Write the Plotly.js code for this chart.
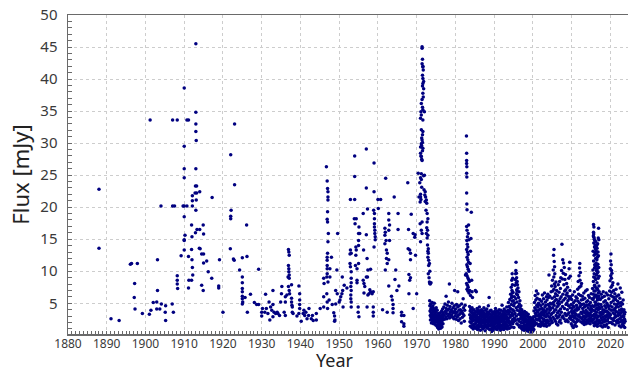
<!DOCTYPE html>
<html><head><meta charset="utf-8">
<script src="https://cdn.plot.ly/plotly-3.0.1.min.js"></script>
<style>html,body{margin:0;padding:0;background:#fff;}#chart{width:628px;height:373px;}</style>
</head><body><div id="chart"></div>
<script>
const hist1888_1929 = [[1888.0,22.8],[1888.0,13.6],[1891.1,2.6],[1893.2,2.3],[1896.1,11.1],[1896.4,11.2],[1897.9,11.2],[1897.2,8.1],[1897.1,5.9],[1897.3,4.1],[1899.2,3.4],[1901.0,3.3],[1901.2,33.6],[1901.4,3.9],[1902.0,5.1],[1902.9,5.2],[1903.1,11.8],[1903.1,7.0],[1902.9,4.1],[1903.7,4.1],[1904.0,20.2],[1904.1,4.9],[1905.1,3.6],[1905.2,2.3],[1905.2,4.6],[1906.9,4.9],[1907.2,3.6],[1907.0,20.2],[1907.5,20.2],[1907.0,33.6],[1908.2,33.6],[1908.2,9.3],[1908.2,8.6],[1908.2,8.0],[1908.3,7.3],[1909.7,20.2],[1909.2,12.4],[1910.0,38.6],[1910.0,29.5],[1910.0,26.0],[1910.0,24.6],[1910.7,20.2],[1910.0,20.2],[1910.0,18.5],[1910.2,15.6],[1910.0,14.9],[1910.0,14.8],[1910.0,13.3],[1910.7,33.6],[1911.1,33.6],[1911.1,12.3],[1911.2,8.6],[1911.1,7.4],[1911.9,8.6],[1912.2,9.4],[1912.1,10.6],[1912.0,11.8],[1911.9,13.4],[1912.0,15.4],[1911.9,17.2],[1912.1,20.2],[1912.1,21.0],[1912.1,21.8],[1912.8,22.2],[1913.2,22.2],[1912.9,23.3],[1913.2,23.3],[1913.0,26.0],[1913.1,30.4],[1913.0,31.8],[1913.0,33.0],[1913.0,34.8],[1913.0,45.5],[1913.1,21.1],[1913.0,19.5],[1912.9,16.0],[1913.3,16.5],[1914.0,22.4],[1914.0,16.5],[1913.9,13.6],[1914.1,13.5],[1914.9,17.2],[1915.0,15.8],[1914.5,12.7],[1915.0,12.7],[1914.5,7.8],[1914.9,7.0],[1915.0,11.3],[1915.8,11.6],[1916.2,9.9],[1917.1,8.9],[1917.2,21.5],[1919.1,11.8],[1918.9,7.7],[1918.9,7.4],[1920.0,3.6],[1922.0,28.2],[1922.1,19.5],[1922.0,18.6],[1922.0,18.2],[1921.9,13.5],[1923.0,33.0],[1923.0,23.5],[1922.7,11.9],[1922.9,11.7],[1924.3,10.2],[1925.0,12.1],[1925.0,9.1],[1925.0,8.2],[1925.0,7.3],[1925.0,6.8],[1925.0,6.1],[1925.0,5.7],[1925.1,5.2],[1925.0,4.9],[1925.7,5.9],[1926.1,17.2],[1926.2,12.3],[1926.3,3.6],[1927.1,6.4],[1928.1,5.1],[1928.7,4.8],[1929.2,10.3],[1929.2,4.8]];

const hist1930_1959 = [[1930.0,3.6],[1930.0,3.0],[1930.2,4.2],[1931.0,6.4],[1930.8,3.6],[1931.2,4.2],[1931.6,3.4],[1931.9,5.2],[1932.1,2.4],[1932.3,4.4],[1932.6,3.9],[1932.9,7.0],[1932.9,4.8],[1932.9,2.9],[1933.2,3.6],[1933.6,3.4],[1934.0,3.6],[1934.2,3.4],[1934.6,3.1],[1935.1,6.5],[1935.2,7.6],[1934.9,5.2],[1935.8,3.6],[1936.1,3.1],[1936.1,5.2],[1936.1,6.0],[1936.5,6.3],[1936.8,9.1],[1936.9,13.4],[1937.0,13.0],[1937.1,12.5],[1936.9,10.9],[1937.0,10.4],[1937.0,9.9],[1937.1,9.4],[1937.1,8.9],[1936.9,7.6],[1937.1,7.0],[1937.2,6.5],[1937.7,5.8],[1937.7,5.2],[1937.8,4.7],[1937.7,7.9],[1937.9,4.4],[1937.9,3.6],[1938.1,3.4],[1939.1,3.0],[1939.6,7.7],[1939.8,6.5],[1939.8,5.5],[1939.8,4.8],[1939.8,4.2],[1939.6,3.4],[1940.2,2.2],[1940.7,3.4],[1940.9,3.9],[1941.1,3.1],[1941.4,3.6],[1941.7,2.6],[1942.1,3.1],[1942.2,4.2],[1942.8,2.6],[1943.1,3.1],[1943.3,2.3],[1944.1,3.4],[1944.1,2.4],[1945.1,4.2],[1946.0,4.4],[1946.0,8.9],[1946.1,8.1],[1946.0,6.0],[1946.7,26.3],[1946.9,24.1],[1947.0,22.9],[1947.1,22.4],[1947.1,21.6],[1947.1,21.1],[1947.0,19.3],[1946.9,18.1],[1947.0,17.7],[1947.2,15.9],[1947.1,14.6],[1947.0,12.8],[1946.9,12.2],[1946.9,11.7],[1946.9,10.9],[1946.9,10.4],[1946.9,9.6],[1946.8,9.1],[1947.1,8.3],[1946.8,6.5],[1946.9,5.2],[1947.0,4.2],[1947.6,9.1],[1947.6,10.4],[1948.0,12.2],[1947.4,5.5],[1948.2,4.8],[1948.6,3.5],[1948.8,3.0],[1948.9,2.4],[1948.8,2.2],[1949.1,7.0],[1949.5,6.5],[1949.1,4.9],[1949.6,15.9],[1949.4,10.2],[1950.0,5.2],[1950.2,5.5],[1950.4,6.0],[1950.7,6.5],[1950.9,7.0],[1951.0,4.4],[1950.8,9.1],[1951.3,7.8],[1952.0,7.4],[1952.9,13.3],[1953.1,12.8],[1952.8,12.7],[1952.8,11.2],[1952.9,10.7],[1953.1,9.9],[1953.1,8.9],[1953.1,8.2],[1953.0,7.6],[1953.1,7.0],[1953.0,6.3],[1953.0,5.7],[1953.1,5.2],[1953.1,4.4],[1952.9,21.2],[1954.0,21.2],[1954.0,28.0],[1954.0,24.8],[1953.9,18.2],[1954.4,18.2],[1954.1,17.4],[1954.3,13.8],[1954.4,13.3],[1954.3,12.5],[1954.6,10.4],[1954.2,10.9],[1954.6,8.6],[1954.6,8.2],[1955.1,16.9],[1955.0,15.9],[1955.3,15.9],[1955.0,14.8],[1955.0,14.0],[1955.0,11.2],[1954.9,4.4],[1954.9,3.6],[1955.1,2.9],[1956.2,19.0],[1956.3,13.3],[1956.2,8.6],[1956.4,8.1],[1956.6,7.6],[1956.4,6.6],[1957.0,29.1],[1957.0,23.0],[1957.3,19.7],[1957.0,15.7],[1957.0,9.1],[1957.3,9.1],[1957.2,12.0],[1957.4,10.2],[1957.4,6.3],[1957.2,4.4],[1957.7,6.5],[1958.1,6.8],[1957.9,7.1],[1958.1,10.3],[1958.5,6.5],[1958.8,6.8],[1958.8,4.4],[1958.8,3.6],[1958.8,3.0],[1959.0,26.9],[1959.0,22.4],[1958.9,19.5],[1959.1,19.0],[1959.1,18.2],[1959.1,17.4],[1959.1,16.9],[1959.2,16.4],[1959.2,15.9],[1959.3,15.4],[1959.3,14.9],[1959.0,13.8]];

const hist1960_1973 = [[1960.0,21.2],[1960.7,21.2],[1960.1,19.8],[1961.2,4.0],[1962.0,24.5],[1961.8,16.7],[1961.9,16.1],[1961.8,15.6],[1962.1,14.8],[1961.8,14.3],[1962.2,13.3],[1962.4,12.8],[1962.2,12.0],[1962.4,11.2],[1961.9,10.2],[1962.8,19.0],[1962.8,18.0],[1963.0,17.2],[1962.8,16.4],[1963.0,14.8],[1962.8,11.8],[1962.4,3.6],[1962.8,7.7],[1963.5,6.1],[1963.7,5.5],[1963.9,4.8],[1963.9,4.2],[1963.9,3.5],[1964.2,21.6],[1964.4,8.7],[1964.6,10.2],[1964.9,7.0],[1965.2,19.0],[1965.2,16.5],[1965.4,7.7],[1966.1,3.6],[1966.1,3.1],[1966.7,3.1],[1966.1,2.1],[1966.7,1.8],[1966.7,1.4],[1967.7,23.8],[1967.9,16.5],[1967.8,13.5],[1968.2,13.3],[1968.4,12.8],[1968.4,11.8],[1968.0,9.5],[1968.4,9.0],[1968.2,8.6],[1968.0,6.5],[1968.6,18.9],[1969.1,15.9],[1969.6,15.7],[1969.1,4.2],[1969.5,15.3],[1969.7,12.5],[1970.0,6.5],[1970.4,25.3],[1970.6,21.6],[1971.0,21.6],[1970.8,23.8],[1971.0,24.6],[1971.0,28.4],[1971.2,27.9],[1971.4,27.3],[1971.0,29.4],[1971.2,29.9],[1971.4,30.5],[1971.6,29.2],[1971.2,32.1],[1971.6,31.8],[1971.0,33.9],[1971.2,34.4],[1971.1,34.9],[1971.6,33.6],[1971.2,36.2],[1971.6,35.2],[1972.0,34.9],[1971.8,38.5],[1971.6,37.8],[1971.6,40.1],[1971.8,39.6],[1971.6,39.3],[1971.4,45.05],[1971.4,44.8],[1971.4,42.4],[1971.6,41.9],[1971.7,41.4],[1971.4,17.7],[1970.9,17.4],[1971.2,16.4],[1971.4,15.9],[1971.0,14.6],[1972.0,25.0],[1972.3,21.6],[1972.5,21.1],[1972.6,20.6],[1972.7,19.0],[1972.9,18.2],[1972.7,17.7],[1972.8,16.4],[1972.5,15.9],[1972.8,14.1],[1973.0,13.5],[1973.0,12.8],[1972.9,12.2],[1973.1,11.7],[1973.1,10.9],[1973.3,8.3],[1973.7,8.2],[1973.4,8.1],[1972.2,22.4],[1972.9,15.6],[1973.0,9.6],[1973.2,9.0],[1971.3,30.8],[1971.5,30.1],[1971.3,29.6],[1971.5,28.8],[1971.1,28.0],[1971.3,27.5],[1971.5,31.3],[1971.4,36.8],[1971.5,35.6],[1971.7,37.2],[1971.5,43.1],[1971.6,42.0],[1971.5,40.6],[1971.5,38.9],[1971.2,24.3],[1971.0,22.0],[1971.1,21.2],[1970.9,20.8],[1971.3,23.1],[1971.2,25.2],[1971.8,24.9],[1971.9,22.7],[1972.1,21.9],[1972.2,20.9],[1972.4,19.5],[1972.6,16.8],[1972.7,15.2],[1972.9,13.1],[1973.3,11.2],[1973.4,10.0],[1973.5,8.0]];

const mon1973_1976 = [[1973.35,5.4],[1973.4,4.6],[1973.45,3.8],[1973.5,3.1],[1973.55,2.4],[1973.6,4.9],[1973.65,4.1],[1973.7,3.5],[1973.75,2.8],[1973.8,1.9],[1973.85,4.4],[1973.9,3.3],[1973.95,2.6],[1974.0,5.1],[1974.05,3.9],[1974.1,3.0],[1974.15,2.2],[1974.2,4.6],[1974.25,3.6],[1974.3,2.7],[1974.35,1.8],[1974.4,4.2],[1974.45,3.2],[1974.5,2.5],[1974.55,5.0],[1974.6,3.7],[1974.65,2.9],[1974.7,2.0],[1974.75,4.0],[1974.8,3.3],[1974.85,2.4],[1974.9,1.6],[1974.95,3.6],[1975.0,2.8],[1975.05,4.3],[1975.1,2.2],[1975.15,3.1],[1975.2,1.5],[1975.25,2.6],[1975.3,3.9],[1975.35,2.0],[1975.4,1.2],[1975.45,2.9],[1975.5,2.3],[1975.55,1.6],[1975.6,3.4],[1975.65,2.5],[1975.7,1.0],[1975.75,2.0],[1975.8,2.8],[1975.85,1.4],[1975.9,3.1],[1975.95,2.2],[1976.0,1.7],[1976.05,2.6],[1976.1,3.5],[1976.15,1.9],[1976.2,1.1],[1976.25,2.4],[1976.3,3.0],[1976.35,1.5],[1976.4,2.7],[1976.45,3.8],[1976.5,2.1],[1976.55,1.3],[1976.6,3.2],[1976.65,2.4],[1976.7,4.1],[1976.75,2.9],[1976.8,1.8],[1976.85,3.5],[1976.9,2.6]];

const mon1977_1982 = [[1977.0,4.4],[1977.1,3.2],[1977.2,2.5],[1977.3,4.9],[1977.4,3.7],[1977.5,2.9],[1977.6,4.2],[1977.6,6.1],[1977.7,3.4],[1977.8,2.6],[1977.9,4.7],[1978.0,3.9],[1978.1,3.0],[1978.2,5.2],[1978.3,4.1],[1978.4,3.3],[1978.45,8.0],[1978.5,2.7],[1978.6,4.5],[1978.7,3.6],[1978.8,2.9],[1978.9,4.0],[1979.0,3.2],[1979.1,5.0],[1979.2,3.8],[1979.3,2.8],[1979.4,4.3],[1979.5,3.5],[1979.6,2.6],[1979.7,4.6],[1979.8,7.0],[1979.85,3.7],[1979.9,3.0],[1980.0,4.1],[1980.1,3.4],[1980.2,2.5],[1980.3,4.8],[1980.4,3.6],[1980.5,2.9],[1980.6,4.4],[1980.6,6.8],[1980.7,3.1],[1980.8,2.3],[1980.9,3.9],[1981.0,4.6],[1981.1,3.3],[1981.2,2.6],[1981.3,4.0],[1981.4,3.5],[1981.5,1.9],[1981.6,4.9],[1981.7,3.8],[1981.8,2.8],[1981.9,3.4],[1982.0,5.7],[1982.1,4.3],[1982.2,3.1],[1982.3,2.2],[1982.4,3.9],[1982.5,4.7]];

const mon1982_1984 = [[1982.85,31.1],[1982.9,28.4],[1982.9,27.3],[1982.9,26.8],[1982.95,26.3],[1982.9,25.3],[1982.95,24.7],[1982.9,22.2],[1982.95,20.5],[1983.0,19.6],[1983.4,17.2],[1982.9,17.0],[1983.0,16.4],[1983.3,15.9],[1983.1,15.4],[1983.5,14.9],[1982.95,14.8],[1983.05,14.2],[1983.2,13.8],[1982.9,13.4],[1983.1,13.0],[1983.3,12.6],[1983.0,12.2],[1983.2,11.8],[1983.4,11.4],[1982.95,11.0],[1983.1,10.7],[1983.3,10.3],[1983.5,10.0],[1982.8,9.6],[1983.0,9.3],[1983.2,9.0],[1983.4,8.7],[1983.6,8.4],[1982.9,8.1],[1983.1,7.8],[1983.3,7.5],[1982.6,9.4],[1983.0,7.2],[1983.2,6.9],[1983.5,6.6],[1984.1,19.2],[1984.0,15.1],[1983.9,13.1],[1983.8,11.2],[1984.2,8.6],[1984.3,6.8],[1984.4,5.9],[1983.7,7.0],[1983.9,6.2]];

const mon1983_1989 = [[1983.65,4.5],[1983.7,3.2],[1983.75,2.1],[1983.8,3.8],[1983.85,1.4],[1983.9,2.7],[1983.95,4.1],[1984.0,3.0],[1984.05,1.9],[1984.1,2.5],[1984.15,3.6],[1984.2,1.2],[1984.25,2.9],[1984.3,4.3],[1984.35,2.2],[1984.4,3.4],[1984.45,1.6],[1984.5,2.6],[1984.55,3.9],[1984.6,1.0],[1984.65,2.3],[1984.7,3.1],[1984.75,1.7],[1984.8,4.0],[1984.85,2.8],[1984.9,1.3],[1984.95,3.5],[1985.0,2.4],[1985.05,1.8],[1985.1,3.3],[1985.15,7.0],[1985.2,2.9],[1985.25,1.1],[1985.3,3.7],[1985.35,2.0],[1985.4,6.8],[1985.45,2.6],[1985.5,1.5],[1985.55,3.2],[1985.6,4.2],[1985.65,2.2],[1985.7,0.9],[1985.75,2.8],[1985.8,3.6],[1985.85,1.6],[1985.9,2.4],[1985.95,3.9],[1986.0,1.2],[1986.05,2.7],[1986.1,3.4],[1986.15,1.9],[1986.2,4.4],[1986.25,2.5],[1986.3,1.4],[1986.35,3.0],[1986.4,2.1],[1986.45,0.8],[1986.5,3.7],[1986.55,2.6],[1986.6,1.7],[1986.65,3.3],[1986.7,2.3],[1986.75,4.0],[1986.8,1.3],[1986.85,2.9],[1986.9,1.9],[1986.95,3.5],[1987.0,2.4],[1987.05,1.0],[1987.1,3.1],[1987.15,2.0],[1987.2,3.8],[1987.25,1.5],[1987.3,2.7],[1987.35,4.3],[1987.4,2.2],[1987.45,1.2],[1987.5,3.4],[1987.55,2.5],[1987.6,1.8],[1987.65,3.0],[1987.7,0.7],[1987.75,2.1],[1987.8,3.9],[1987.85,2.8],[1987.9,1.4],[1987.95,3.3],[1988.0,2.3],[1988.05,1.6],[1988.1,4.1],[1988.15,2.9],[1988.2,1.1],[1988.25,3.6],[1988.3,2.0],[1988.35,2.7],[1988.4,1.3],[1988.45,3.2],[1988.5,4.6],[1988.55,2.4],[1988.6,1.7],[1988.65,3.5],[1988.7,5.9],[1988.75,2.1],[1988.8,0.9],[1988.85,2.9],[1988.9,3.8],[1988.95,1.5],[1989.0,2.6],[1989.05,3.3],[1989.1,1.0],[1989.15,2.2],[1989.2,3.9],[1989.25,1.8],[1989.3,2.8],[1989.35,0.6],[1989.4,1.6],[1989.45,3.1],[1989.5,2.4],[1989.55,1.2],[1989.6,3.6],[1989.65,2.0],[1989.7,0.8],[1989.75,2.7],[1989.8,1.5],[1989.85,3.4],[1989.9,2.2],[1989.95,1.1]];

const mon1990_1993 = [[1990.0,2.9],[1990.05,1.7],[1990.1,3.7],[1990.15,2.4],[1990.2,1.3],[1990.25,3.1],[1990.3,2.0],[1990.35,4.2],[1990.4,2.6],[1990.45,1.0],[1990.5,3.4],[1990.55,1.9],[1990.6,2.8],[1990.65,1.4],[1990.7,3.8],[1990.75,2.3],[1990.8,0.9],[1990.85,3.0],[1990.9,1.8],[1990.95,2.5],[1991.0,3.6],[1991.05,1.2],[1991.1,2.7],[1991.15,2.0],[1991.2,3.3],[1991.25,1.5],[1991.3,4.0],[1991.35,2.4],[1991.4,1.1],[1991.45,2.9],[1991.5,1.7],[1991.55,3.5],[1991.6,2.2],[1991.65,0.8],[1991.7,2.6],[1991.75,3.9],[1991.8,1.4],[1991.85,3.1],[1991.9,2.1],[1991.95,1.0],[1992.0,2.8],[1992.05,4.7],[1992.1,1.6],[1992.15,3.3],[1992.2,2.3],[1992.25,1.2],[1992.3,3.7],[1992.35,2.5],[1992.4,1.8],[1992.45,3.0],[1992.5,0.9],[1992.55,2.2],[1992.6,4.1],[1992.65,2.7],[1992.7,1.5],[1992.75,3.4],[1992.8,2.0],[1992.85,1.1],[1992.9,2.9],[1992.95,3.8],[1993.0,1.7],[1993.05,2.5],[1993.1,1.3],[1993.15,3.2],[1993.2,2.1],[1993.25,4.4],[1993.3,1.6],[1993.35,2.8],[1993.4,1.0],[1993.45,3.6],[1993.5,2.4]];

const mon1993_1997 = [[1993.55,1.4],[1993.6,3.9],[1993.65,2.6],[1993.7,5.1],[1993.75,1.9],[1993.8,3.3],[1993.85,4.5],[1993.9,2.2],[1993.95,1.1],[1994.0,3.7],[1994.05,5.6],[1994.1,2.8],[1994.15,1.6],[1994.2,4.2],[1994.25,6.4],[1994.3,3.1],[1994.35,2.0],[1994.4,7.5],[1994.45,4.8],[1994.5,1.3],[1994.55,8.6],[1994.6,3.5],[1994.62,6.1],[1994.65,9.6],[1994.68,5.3],[1994.7,2.4],[1994.72,7.9],[1994.75,4.0],[1994.78,8.9],[1994.8,1.8],[1994.85,6.7],[1994.9,3.2],[1994.95,5.4],[1995.0,2.1],[1995.05,4.6],[1995.1,1.2],[1995.15,3.8],[1995.2,6.0],[1995.25,2.7],[1995.3,5.0],[1995.35,7.8],[1995.4,3.4],[1995.45,8.7],[1995.5,2.3],[1995.55,9.6],[1995.6,5.7],[1995.65,11.4],[1995.68,4.3],[1995.7,8.2],[1995.73,6.5],[1995.75,3.0],[1995.8,9.0],[1995.83,7.1],[1995.85,1.8],[1995.9,5.2],[1995.95,8.4],[1996.0,3.9],[1996.05,6.3],[1996.1,2.5],[1996.15,7.4],[1996.2,4.5],[1996.25,1.6],[1996.3,5.9],[1996.35,3.3],[1996.4,6.8],[1996.45,2.2],[1996.5,4.9],[1996.55,1.3],[1996.6,3.7],[1996.65,5.4],[1996.7,2.6],[1996.75,4.2],[1996.8,1.5],[1996.85,3.1],[1996.9,4.6],[1996.95,2.0],[1997.0,3.5],[1997.05,1.1],[1997.1,2.8],[1997.15,4.0],[1997.2,1.9],[1997.25,3.2],[1997.3,0.9],[1997.35,2.4],[1997.4,3.6],[1997.45,1.4],[1994.5,5.9],[1994.6,7.0],[1994.7,6.6],[1994.75,3.1],[1994.85,2.5],[1995.6,10.1],[1995.75,9.7],[1995.9,6.9],[1996.0,7.9]];

const mon1997_2000 = [[1997.5,2.6],[1997.55,1.2],[1997.6,3.3],[1997.65,2.0],[1997.7,0.8],[1997.75,2.9],[1997.8,1.6],[1997.85,3.7],[1997.9,2.3],[1997.95,1.0],[1998.0,2.7],[1998.05,1.5],[1998.1,3.1],[1998.15,2.1],[1998.2,0.7],[1998.25,2.5],[1998.3,3.5],[1998.35,1.3],[1998.4,2.2],[1998.45,1.8],[1998.5,3.0],[1998.55,0.9],[1998.6,2.4],[1998.65,1.6],[1998.7,2.9],[1998.75,1.1],[1998.8,3.3],[1998.85,2.0],[1998.9,0.6],[1998.95,1.7],[1999.0,2.6],[1999.05,1.2],[1999.1,2.1],[1999.15,0.7],[1999.2,1.5],[1999.25,2.8],[1999.3,0.5],[1999.35,1.9],[1999.4,1.0],[1999.45,2.4],[1999.5,0.6],[1999.55,1.6],[1999.6,2.2],[1999.65,0.9],[1999.7,1.4],[1999.75,2.7],[1999.8,0.5],[1999.85,1.8],[1999.9,1.1],[1999.95,2.5],[2000.0,1.3],[2000.05,0.7],[2000.1,2.0],[2000.15,1.5],[2000.2,2.9],[2000.25,0.9]];

const mon2000_2004 = [[2000.3,3.8],[2000.35,2.2],[2000.4,5.1],[2000.45,1.6],[2000.5,4.3],[2000.55,2.9],[2000.6,6.2],[2000.65,3.4],[2000.7,1.9],[2000.75,5.5],[2000.8,4.0],[2000.85,2.5],[2000.9,6.9],[2000.95,3.1],[2001.0,4.7],[2001.05,1.8],[2001.1,5.8],[2001.15,3.6],[2001.2,2.4],[2001.25,4.4],[2001.3,6.5],[2001.35,3.0],[2001.4,1.5],[2001.45,5.0],[2001.5,3.9],[2001.55,2.6],[2001.6,4.8],[2001.65,1.7],[2001.7,3.3],[2001.75,5.6],[2001.8,2.3],[2001.85,4.1],[2001.9,3.0],[2001.95,1.4],[2002.0,2.8],[2002.05,4.6],[2002.1,3.5],[2002.15,2.0],[2002.2,5.3],[2002.25,3.2],[2002.3,1.6],[2002.35,4.2],[2002.4,2.7],[2002.45,6.3],[2002.5,3.7],[2002.55,2.1],[2002.6,4.9],[2002.65,1.8],[2002.7,3.4],[2002.75,5.7],[2002.8,2.5],[2002.85,4.0],[2002.9,1.5],[2002.95,3.1],[2003.0,6.6],[2003.05,2.3],[2003.1,4.4],[2003.15,3.6],[2003.2,1.7],[2003.25,5.2],[2003.3,2.9],[2003.35,4.7],[2003.4,2.0],[2003.45,3.8],[2003.5,6.0],[2003.55,1.4],[2003.6,3.3],[2003.65,5.5],[2003.7,2.4],[2003.75,4.1],[2003.8,1.9],[2003.85,6.4],[2003.9,3.0],[2003.95,4.8],[2004.0,2.2],[2004.05,5.9],[2004.1,3.5],[2004.15,9.4],[2004.2,1.6],[2004.25,4.5],[2004.3,2.8],[2004.35,6.1],[2004.4,3.9],[2004.45,1.8],[2004.5,5.0],[2004.55,2.6],[2004.6,4.2],[2004.65,3.2]];

const mon2004_2009 = [[2004.7,6.8],[2004.75,2.3],[2004.8,4.9],[2004.85,7.7],[2004.9,3.4],[2004.95,5.8],[2005.0,2.0],[2005.05,8.6],[2005.1,4.3],[2005.15,6.9],[2005.2,2.8],[2005.25,10.2],[2005.3,5.1],[2005.33,12.5],[2005.36,3.6],[2005.4,9.1],[2005.43,7.2],[2005.45,13.4],[2005.48,4.7],[2005.5,11.5],[2005.53,2.5],[2005.55,8.0],[2005.58,6.0],[2005.6,10.7],[2005.63,3.9],[2005.65,9.6],[2005.7,5.4],[2005.75,7.6],[2005.8,2.2],[2005.85,6.5],[2005.9,4.0],[2005.95,8.3],[2006.0,3.1],[2006.05,5.6],[2006.1,1.8],[2006.15,7.0],[2006.2,4.4],[2006.25,2.7],[2006.3,6.2],[2006.35,3.5],[2006.4,5.0],[2006.45,1.6],[2006.5,4.6],[2006.55,7.9],[2006.6,2.9],[2006.65,5.3],[2006.7,3.8],[2006.75,6.7],[2006.8,2.1],[2006.85,4.9],[2006.9,8.4],[2006.95,3.2],[2007.0,5.7],[2007.05,2.4],[2007.1,7.3],[2007.15,4.1],[2007.2,9.0],[2007.25,1.9],[2007.3,6.0],[2007.35,3.6],[2007.4,10.1],[2007.45,5.2],[2007.5,14.2],[2007.55,2.8],[2007.6,8.8],[2007.65,4.5],[2007.7,11.8],[2007.75,6.4],[2007.8,3.0],[2007.85,9.7],[2007.9,11.3],[2007.95,5.5],[2008.0,7.9],[2008.05,2.6],[2008.1,10.6],[2008.15,4.2],[2008.2,6.9],[2008.25,8.7],[2008.3,3.4],[2008.35,5.8],[2008.4,9.5],[2008.45,2.2],[2008.5,7.1],[2008.55,4.8],[2008.6,6.3],[2008.65,3.1],[2008.7,8.1],[2008.75,5.0],[2008.8,2.4],[2008.85,6.6],[2008.9,4.0],[2008.95,7.5],[2009.0,3.3],[2009.05,5.4],[2009.1,2.1],[2009.15,6.1],[2009.2,4.6],[2009.25,8.9],[2009.3,3.5],[2009.35,10.4],[2009.4,5.7],[2009.45,2.7],[2009.5,11.4],[2009.55,7.0],[2009.6,4.3],[2009.65,9.2],[2009.7,3.0],[2009.75,6.0]];

const mon2009_2015 = [[2009.8,2.5],[2009.85,4.8],[2009.9,1.8],[2009.95,3.7],[2010.0,5.6],[2010.05,2.9],[2010.1,4.2],[2010.15,1.5],[2010.2,3.4],[2010.25,6.3],[2010.3,2.3],[2010.35,4.6],[2010.4,3.0],[2010.45,1.2],[2010.5,5.1],[2010.55,3.8],[2010.6,2.1],[2010.65,4.4],[2010.7,6.8],[2010.75,2.7],[2010.8,3.5],[2010.85,1.6],[2010.9,5.4],[2010.95,3.1],[2011.0,4.0],[2011.05,2.0],[2011.1,6.0],[2011.15,3.3],[2011.2,1.4],[2011.25,4.7],[2011.3,2.6],[2011.35,3.9],[2011.4,5.8],[2011.45,2.2],[2011.5,4.3],[2011.55,7.2],[2011.6,3.0],[2011.65,5.3],[2011.7,8.4],[2011.75,2.4],[2011.8,6.4],[2011.85,4.1],[2011.9,9.3],[2011.95,3.2],[2012.0,7.5],[2012.05,10.5],[2012.08,5.0],[2012.1,11.2],[2012.13,2.8],[2012.15,8.6],[2012.2,4.5],[2012.25,9.8],[2012.3,6.2],[2012.35,2.1],[2012.4,7.7],[2012.45,3.6],[2012.5,5.5],[2012.55,8.1],[2012.6,2.6],[2012.65,4.8],[2012.7,3.4],[2012.75,6.1],[2012.8,1.9],[2012.85,4.2],[2012.9,2.9],[2012.95,5.6],[2013.0,3.7],[2013.05,2.2],[2013.1,4.9],[2013.15,6.6],[2013.2,3.0],[2013.25,1.7],[2013.3,4.4],[2013.35,2.5],[2013.4,5.8],[2013.45,3.5],[2013.5,2.0],[2013.55,4.6],[2013.6,6.9],[2013.65,2.8],[2013.7,3.9],[2013.75,1.8],[2013.8,5.2],[2013.85,3.2],[2013.9,2.4],[2013.95,4.7],[2014.0,7.1],[2014.05,3.6],[2014.1,2.1],[2014.15,5.4],[2014.2,3.0],[2014.25,4.3],[2014.3,1.9],[2014.35,6.2],[2014.4,3.4],[2014.45,2.6],[2014.5,4.8],[2014.55,3.1],[2014.6,5.9],[2014.65,2.3],[2014.7,4.0],[2014.75,3.3],[2014.8,1.8],[2014.85,5.1],[2014.9,2.7],[2014.95,4.5],[2015.0,3.6],[2015.05,6.5],[2015.1,2.2],[2015.15,4.1],[2015.2,3.0],[2015.25,5.7],[2015.3,2.5],[2015.35,4.6]];

const mon2015_2017 = [[2015.4,7.3],[2015.45,3.9],[2015.5,10.2],[2015.52,5.6],[2015.55,13.1],[2015.58,2.4],[2015.6,15.5],[2015.62,8.4],[2015.65,17.3],[2015.67,11.6],[2015.7,4.5],[2015.72,14.4],[2015.75,16.9],[2015.77,6.9],[2015.8,12.5],[2015.82,9.6],[2015.85,15.0],[2015.87,3.3],[2015.9,13.8],[2015.92,7.8],[2015.95,11.0],[2015.97,14.8],[2016.0,5.2],[2016.02,12.9],[2016.05,9.0],[2016.07,14.1],[2016.1,2.8],[2016.12,10.7],[2016.15,13.5],[2016.17,6.3],[2016.2,12.0],[2016.22,8.7],[2016.25,14.6],[2016.27,4.1],[2016.3,11.3],[2016.32,13.2],[2016.35,7.4],[2016.37,10.1],[2016.4,12.7],[2016.42,3.6],[2016.45,9.4],[2016.47,14.0],[2016.5,6.0],[2016.52,11.8],[2016.55,8.2],[2016.57,13.6],[2016.6,2.5],[2016.62,10.4],[2016.65,12.2],[2016.67,5.5],[2016.7,9.8],[2016.72,14.3],[2016.75,7.1],[2016.77,11.1],[2016.8,4.8],[2016.82,13.0],[2016.85,8.9],[2016.87,15.2],[2016.9,6.6],[2016.92,12.4],[2016.95,16.7],[2016.97,3.0],[2017.0,10.6],[2017.02,14.9],[2017.05,7.7],[2017.08,9.2],[2017.1,4.4],[2017.13,6.8],[2017.15,2.3],[2017.2,5.7],[2017.25,3.5],[2015.55,3.1],[2015.65,1.9],[2015.75,2.6],[2015.85,1.5],[2015.95,3.8],[2016.05,2.0],[2016.15,4.7],[2016.25,1.7],[2016.35,3.2],[2016.45,2.2],[2016.55,4.3],[2016.65,1.4],[2016.75,2.9],[2016.85,1.8],[2016.95,4.9],[2017.05,2.1],[2015.6,6.4],[2015.7,9.1],[2015.8,5.9],[2015.9,10.5],[2016.0,7.6],[2016.1,6.9],[2016.2,5.1],[2016.3,9.5],[2016.4,6.2],[2016.5,10.9],[2016.6,7.3],[2016.7,5.8],[2016.8,9.9],[2016.9,4.0],[2017.0,6.1],[2015.65,16.1],[2015.7,15.8],[2015.75,15.3]];

const mon2017_2019 = [[2017.3,4.2],[2017.35,2.0],[2017.4,5.6],[2017.45,3.1],[2017.5,1.5],[2017.55,4.8],[2017.6,2.7],[2017.65,6.4],[2017.7,3.6],[2017.75,1.9],[2017.8,4.4],[2017.85,2.4],[2017.9,5.9],[2017.95,3.3],[2018.0,1.3],[2018.05,4.0],[2018.1,2.8],[2018.15,6.8],[2018.2,3.5],[2018.25,2.1],[2018.3,5.2],[2018.35,1.6],[2018.4,3.9],[2018.45,6.1],[2018.5,2.5],[2018.55,4.6],[2018.6,3.0],[2018.65,1.4],[2018.7,5.4],[2018.75,3.7],[2018.8,2.2],[2018.85,4.3],[2018.9,6.6],[2018.95,2.9],[2019.0,3.8],[2019.05,1.7],[2019.1,5.0],[2019.15,3.2],[2019.2,2.3],[2019.25,4.7],[2019.3,6.3],[2019.35,2.6],[2019.4,3.6],[2019.45,1.2],[2019.5,4.5],[2019.55,3.0],[2019.6,5.7],[2019.65,2.0],[2019.7,4.1],[2019.75,3.4]];

const mon2019_2023 = [[2019.8,6.9],[2019.85,2.8],[2019.9,8.5],[2019.95,4.6],[2020.0,10.4],[2020.03,3.2],[2020.05,11.6],[2020.08,6.2],[2020.1,9.3],[2020.13,2.0],[2020.15,12.7],[2020.18,7.5],[2020.2,5.1],[2020.22,11.0],[2020.25,3.9],[2020.28,8.9],[2020.3,10.1],[2020.33,6.7],[2020.35,2.6],[2020.4,9.7],[2020.45,4.4],[2020.5,7.8],[2020.55,1.8],[2020.6,6.0],[2020.65,8.2],[2020.7,3.5],[2020.75,5.4],[2020.8,2.3],[2020.85,7.0],[2020.9,4.0],[2020.95,5.9],[2021.0,2.7],[2021.05,4.9],[2021.1,3.3],[2021.15,6.5],[2021.2,1.6],[2021.25,4.2],[2021.3,2.9],[2021.35,5.6],[2021.4,3.7],[2021.45,7.2],[2021.5,2.2],[2021.55,4.5],[2021.6,3.0],[2021.65,6.1],[2021.7,1.9],[2021.75,4.8],[2021.8,3.6],[2021.85,2.4],[2021.9,5.3],[2021.95,8.0],[2022.0,3.1],[2022.05,4.4],[2022.1,2.0],[2022.15,6.3],[2022.2,3.4],[2022.25,5.0],[2022.3,1.5],[2022.35,3.9],[2022.4,2.6],[2022.45,5.8],[2022.5,3.2],[2022.55,7.4],[2022.6,2.1],[2022.65,4.6],[2022.7,3.5],[2022.75,1.3],[2022.8,5.1],[2022.85,2.8],[2022.9,4.1],[2022.95,6.7],[2023.0,2.3],[2023.05,3.8],[2023.1,1.7],[2023.15,4.9],[2023.2,3.0],[2023.25,2.1],[2023.3,5.5],[2023.35,3.6],[2023.4,1.4],[2023.45,2.9],[2023.5,4.0],[2023.55,1.9],[2023.6,3.3],[2023.65,2.5],[2023.7,1.2],[2023.75,3.6],[2023.8,2.2]];

const xTickVals = [1880,1890,1900,1910,1920,1930,1940,1950,1960,1970,1980,1990,2000,2010,2020];
const yTickVals = [5,10,15,20,25,30,35,40,45,50];

const allObs = [].concat(hist1888_1929, hist1930_1959, hist1960_1973, mon1973_1976, mon1977_1982, mon1982_1984, mon1983_1989, mon1990_1993, mon1993_1997, mon1997_2000, mon2000_2004, mon2004_2009, mon2009_2015, mon2015_2017, mon2017_2019, mon2019_2023);

const trace = {
  type: 'scatter', mode: 'markers',
  x: allObs.map(p => p[0]), y: allObs.map(p => p[1]),
  marker: {color: '#000080', size: 3.5, line: {width: 0}},
  hoverinfo: 'x+y'
};

const axisLine = '#6a6a6a';
const layout = {
  width: 628, height: 373,
  margin: {l: 68, r: 0, t: 15, b: 39},
  paper_bgcolor: '#ffffff', plot_bgcolor: '#ffffff',
  showlegend: false,
  font: {family: 'Noto Sans, Open Sans, sans-serif', color: '#333333'},
  xaxis: {
    range: [1880, 2024.55], tickmode: 'array', tickvals: xTickVals, ticktext: xTickVals.map(String),
    tickfont: {size: 12, color: '#3a3a3a'}, ticklabelstandoff: -2,
    showgrid: true, gridcolor: '#cdcdcd', griddash: 'dot', gridwidth: 1,
    showline: true, linecolor: axisLine, linewidth: 1.5, mirror: true,
    ticks: 'inside', ticklen: 3, tickcolor: axisLine, tickwidth: 1,
    minor: {dtick: 1, ticks: 'inside', ticklen: 3, tickcolor: axisLine, showgrid: false},
    zeroline: false
  },
  yaxis: {
    range: [0.2, 50], tickmode: 'array', tickvals: yTickVals, ticktext: yTickVals.map(String),
    tickfont: {size: 15, color: '#3a3a3a'}, ticklabelstandoff: 6,
    showgrid: true, gridcolor: '#cdcdcd', griddash: 'dot', gridwidth: 1,
    showline: true, linecolor: axisLine, linewidth: 1.5, mirror: false,
    ticks: 'inside', ticklen: 4, tickcolor: axisLine, tickwidth: 1,
    minor: {dtick: 1, tick0: 0, ticks: 'inside', ticklen: 4, tickcolor: axisLine, showgrid: false},
    zeroline: false,
    title: {text: 'Flux [mJy]', font: {size: 22, color: '#222222'}, standoff: 4}
  },
  annotations: [{
    text: 'Year', xref: 'paper', yref: 'paper', x: 0.477, y: -0.1223,
    xanchor: 'center', yanchor: 'bottom', showarrow: false, borderpad: 0,
    font: {size: 18, color: '#222222'}
  }]
};

Plotly.newPlot('chart', [trace], layout, {staticPlot: true, displayModeBar: false});
</script>
</body></html>
